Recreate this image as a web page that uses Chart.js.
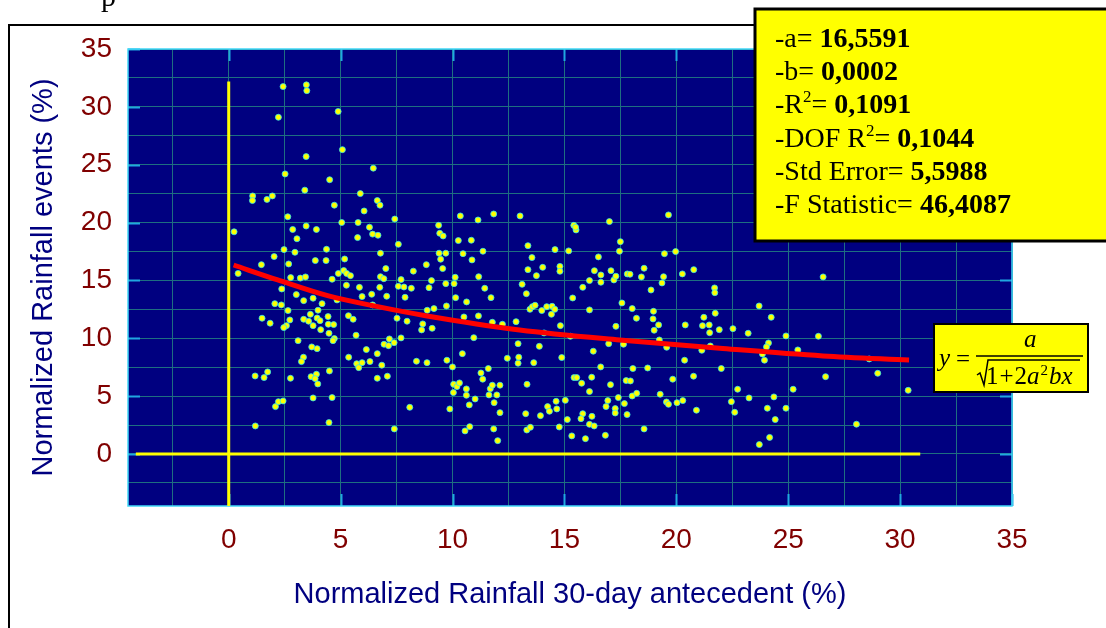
<!DOCTYPE html>
<html><head><meta charset="utf-8">
<script src="https://cdn.jsdelivr.net/npm/chart.js@4.4.1/dist/chart.umd.min.js"></script>
<style>html,body{margin:0;padding:0;background:#fff}#wrap{width:1106px;height:628px;position:relative}</style>
</head><body><div id="wrap"><canvas id="c" width="1106" height="628"></canvas></div>
<script>
// ---- data ----
const antecedentX = [
2.43,3.47,3.49,4.89,2.22,5.08,3.46,6.46,2.52,4.51,3.40,5.88,1.07,1.95,1.71,1.06,6.64,6.76,4.72,6.05,7.42,2.64,5.05,5.78,3.46,6.29,2.86,3.92,0.24,6.43,6.67,5.76,3.05,
2.47,2.96,4.37,7.58,6.78,2.03,1.46,2.68,3.87,4.35,5.18,8.83,0.42,2.77,3.2,3.43,4.62,4.9,5.14,5.27,5.44,7.02,6.78,6.93,8.25,7.7,2.37,5.26,5.84,6.75,7.58,7.83,8.16,3.02,6.39,7.06,7.88,5.96,3.77,3.35,4.84,2.06,2.35,4.17,6.43,2.65,3.99,8.87,3.65,5.35,5.56,7.52,7.97,1.49,1.85,2.73,3.35,3.57,3.95,4.08,4.44,4.45,4.69,3.77,2.58,2.46,4.11,8.67,8.62,4.48,5.69,7.7,3.1,4.72,4.66,7.18,6.94,7.14,7.39,3.71,3.95,6.15,6.64,3.34,3.25,5.36,5.72,5.81,5.96,6.31,6.84,8.39,8.86,1.18,1.58,1.74,2.76,3.68,3.92,3.86,3.98,4.5,6.64,7.09,2.09,2.22,2.43,3.77,4.62,8.09,1.19,4.48,7.4,
9.38,9.43,9.58,10.35,11.14,11.84,13.02,15.42,15.52,15.5,17.01,19.65,10.26,10.84,17.5,17.46,9.4,9.7,10.47,11.36,13.37,14.58,15.19,19.47,19.97,9.47,10.87,13.55,16.52,9.56,13.37,14.03,14.8,14.8,16.34,17.08,18.56,20.78,9.06,8.95,9.7,10.07,10.12,11.17,11.44,10.14,10.63,11.72,9.73,9.17,10.51,11.16,11.78,12.23,12.84,13.11,13.3,13.75,13.46,13.57,13.69,13.99,14.21,14.45,14.57,14.42,15.37,16.12,15.82,16.12,16.63,16.63,17.21,17.3,17.81,17.93,18.44,18.87,19.36,19.43,20.27,21.71,21.72,17.57,18.03,18.22,18.98,18.96,19.21,19.01,20.4,21.23,21.17,21.47,21.74,21.49,21.92,22.53,23.21,9.09,14.82,17.3,10.95,14.09,15.27,16.98,17.64,19.24,19.57,21.14,21.52,12.93,13.88,10.44,9.75,10.0,12.45,12.96,12.93,13.63,14.88,16.29,16.62,18.06,18.72,20.37,22.01,11.6,11.27,11.35,10.05,10.2,10.31,10.04,10.62,10.62,11.01,11.69,11.78,12.12,11.98,11.63,11.86,12.12,10.75,9.88,10.77,10.56,11.84,12.02,13.33,13.27,13.32,13.48,13.93,14.25,14.33,14.63,14.66,15.04,14.77,15.13,15.33,15.43,15.55,15.77,16.22,16.12,15.82,15.74,16.23,16.12,16.33,15.94,16.83,17.06,16.94,16.86,17.27,17.27,17.41,17.68,17.8,17.76,17.95,18.03,18.23,18.56,19.28,19.56,19.65,19.84,20.03,20.29,20.77,20.9,22.46,22.61,22.74,23.25,
26.56,23.7,24.24,24.9,26.35,24.12,24.03,25.43,23.85,23.94,26.67,29.0,25.22,30.36,24.36,24.07,24.9,24.42,28.05,24.17,23.71,28.62
];
const eventsY = [
31.75,31.9,31.4,29.6,29.1,26.3,25.7,24.7,24.2,23.7,22.8,22.5,22.3,22.3,22.0,21.9,21.9,21.5,21.5,21.0,20.3,20.5,20.0,20.0,19.7,19.6,19.4,19.4,19.2,19.0,18.9,18.7,18.6,
17.66,17.43,17.69,18.12,17.35,17.06,16.36,16.42,16.71,16.71,16.85,16.36,15.6,15.24,15.2,15.3,15.1,15.6,15.85,15.6,15.41,16.02,15.32,15.15,15.8,15.07,14.26,14.58,14.4,14.4,14.49,14.43,14.32,13.77,13.8,13.63,13.54,13.6,13.46,13.25,13.31,12.99,12.88,12.99,12.88,12.39,12.42,12.42,12.07,11.95,11.64,11.73,11.47,11.73,11.3,11.58,11.64,11.47,11.75,11.52,11.87,11.21,11.18,11.09,11.09,10.92,10.74,11.24,10.72,10.43,10.26,10.03,9.79,9.97,9.79,9.94,9.48,9.36,9.62,9.25,9.1,9.02,8.67,8.36,7.98,8.36,7.8,7.46,7.89,7.98,7.67,8.01,7.89,6.74,6.6,7.09,6.54,6.68,6.89,6.51,6.05,7.17,6.54,6.72,4.09,4.52,4.58,4.84,4.87,4.03,2.42,2.71,2.16,
19.76,19.07,18.84,20.57,20.22,20.74,20.57,19.76,19.36,19.6,20.08,20.66,18.44,18.47,18.35,17.52,17.35,17.35,17.31,17.52,18.0,17.66,17.55,17.31,17.49,16.83,16.77,16.97,17.03,16.02,15.93,16.13,16.21,15.79,15.84,15.84,16.05,15.93,14.98,14.37,14.72,14.72,15.27,15.32,14.32,13.51,13.14,13.51,12.79,12.56,11.84,11.93,11.38,11.21,11.43,14.66,13.85,15.41,12.5,12.73,12.85,12.39,12.73,12.76,12.5,12.07,13.48,12.45,14.4,14.98,15.47,14.84,15.04,15.36,15.56,15.53,15.3,14.17,14.78,15.32,15.56,14.35,13.94,13.05,12.56,11.73,12.33,11.67,11.15,10.69,11.15,11.81,11.09,11.15,12.16,10.48,10.74,10.83,10.43,10.86,11.09,11.03,10.05,10.46,10.17,9.53,9.48,9.85,9.22,8.96,9.33,9.53,9.3,8.67,8.1,7.52,8.27,8.36,7.84,7.89,8.33,8.88,7.52,7.38,7.43,8.1,7.38,7.38,7.0,6.46,6.02,5.82,6.14,5.3,5.62,5.07,4.75,5.64,5.94,5.94,5.1,5.1,4.43,3.57,4.24,3.89,2.36,1.99,2.16,1.15,6.02,3.48,2.07,2.3,3.31,4.09,3.69,4.55,3.89,4.63,2.33,2.97,1.56,6.6,6.6,6.11,6.63,5.39,3.48,3.05,3.25,2.56,2.42,1.32,1.61,5.99,4.61,4.09,3.92,3.54,4.87,4.35,3.4,6.34,6.31,5.01,5.24,2.16,5.16,4.49,4.29,6.46,4.43,4.61,6.72,3.78,4.52,3.6,5.59,4.84,
15.3,12.79,11.81,10.2,10.17,9.59,9.25,8.99,8.64,8.1,6.68,6.97,5.59,5.5,4.93,3.95,3.95,2.97,2.57,1.43,0.81,8.21
];
// fitted curve
const fitX = [0.22, 2.19, 4.42, 6.66, 8.8, 13.0, 17.47, 21.94, 26.55, 30.4];
const fitY = [16.33, 15.04, 13.68, 12.73, 11.95, 10.72, 9.85, 9.13, 8.47, 8.12];
// yellow reference lines
const zeroLineX = [-4.15, 30.9];
const zeroLineY = [0, 0];
const originLineX = [0, 0];
const originLineY = [-4.5, 32.2];
// axes
const axisMin = -4.5, axisMax = 35;
const gridValues = [-2.5,0,2.5,5,7.5,10,12.5,15,17.5,20,22.5,25,27.5,30,32.5,35];
const labelValues = [0,5,10,15,20,25,30,35];
// annotation texts
const statRows = [
  {pre:'-a= ', sup:'', post:'', val:'16,5591'},
  {pre:'-b= ', sup:'', post:'', val:'0,0002'},
  {pre:'-R', sup:'2', post:'= ', val:'0,1091'},
  {pre:'-DOF R', sup:'2', post:'= ', val:'0,1044'},
  {pre:'-Std Error= ', sup:'', post:'', val:'5,5988'},
  {pre:'-F Statistic= ', sup:'', post:'', val:'46,4087'}
];

const pts = antecedentX.map((x, i) => ({x: x, y: eventsY[i]}));
const toXY = (xs, ys) => xs.map((x, i) => ({x: x, y: ys[i]}));

const SANS = '"Liberation Sans", Arial, sans-serif';
const SERIF = '"Liberation Serif", "Times New Roman", serif';

const decor = {
  id: 'decor',
  beforeDraw(chart) {
    const ctx = chart.ctx, a = chart.chartArea;
    ctx.save();
    ctx.fillStyle = '#ffffff';
    ctx.fillRect(0, 0, chart.width, chart.height);
    // outer frame
    ctx.strokeStyle = '#000000';
    ctx.lineWidth = 2;
    ctx.beginPath();
    ctx.moveTo(9, 640); ctx.lineTo(9, 25); ctx.lineTo(1106, 25);
    ctx.stroke();
    // plot background
    ctx.fillStyle = '#000080';
    ctx.fillRect(a.left, a.top, a.right - a.left, a.bottom - a.top);
    // clipped top glyph
    ctx.fillStyle = '#000000';
    ctx.font = '30px ' + SERIF;
    ctx.textBaseline = 'alphabetic';
    ctx.fillText('p', 101, 6);
    ctx.restore();
  },
  beforeDatasetsDraw(chart) {
    const ctx = chart.ctx, a = chart.chartArea;
    const xs = chart.scales.x, ys = chart.scales.y;
    ctx.save();
    // inner tick marks
    ctx.strokeStyle = '#20a8e0';
    ctx.lineWidth = 2;
    ctx.beginPath();
    labelValues.forEach(v => {
      const px = Math.round(xs.getPixelForValue(v)) + 0.5;
      ctx.moveTo(px, a.top); ctx.lineTo(px, a.top + 12);
      ctx.moveTo(px, a.bottom); ctx.lineTo(px, a.bottom - 12);
      const py = Math.round(ys.getPixelForValue(v)) + 0.5;
      ctx.moveTo(a.left, py); ctx.lineTo(a.left + 12, py);
      ctx.moveTo(a.right, py); ctx.lineTo(a.right - 12, py);
    });
    ctx.stroke();
    // border
    ctx.strokeStyle = '#40d8f8';
    ctx.lineWidth = 1.5;
    ctx.strokeRect(a.left, a.top, a.right - a.left, a.bottom - a.top);
    ctx.restore();
  },
  afterDraw(chart) {
    const ctx = chart.ctx;
    ctx.save();
    // statistics box
    ctx.fillStyle = '#ffff00';
    ctx.fillRect(755, 9, 360, 232);
    ctx.strokeStyle = '#000000';
    ctx.lineWidth = 3;
    ctx.strokeRect(755, 9, 360, 232);
    ctx.fillStyle = '#000000';
    ctx.textBaseline = 'alphabetic';
    statRows.forEach((r, i) => {
      const base = 47 + i * 33.2;
      let x = 775;
      ctx.font = '28px ' + SERIF;
      ctx.fillText(r.pre, x, base); x += ctx.measureText(r.pre).width;
      if (r.sup) {
        ctx.font = '17px ' + SERIF;
        ctx.fillText(r.sup, x, base - 11); x += ctx.measureText(r.sup).width;
        ctx.font = '28px ' + SERIF;
        ctx.fillText(r.post, x, base); x += ctx.measureText(r.post).width;
      }
      ctx.font = 'bold 28px ' + SERIF;
      ctx.fillText(r.val, x, base);
    });
    // formula box
    ctx.fillStyle = '#ffff00';
    ctx.fillRect(934, 324, 154, 68);
    ctx.lineWidth = 2;
    ctx.strokeRect(934, 324, 154, 68);
    ctx.fillStyle = '#000000';
    ctx.font = 'italic 25px ' + SERIF;
    ctx.fillText('y', 939, 366);
    ctx.font = '25px ' + SERIF;
    ctx.fillText('=', 956, 367);
    ctx.lineWidth = 1.5;
    ctx.beginPath(); ctx.moveTo(976, 356); ctx.lineTo(1083, 356); ctx.stroke();
    ctx.font = 'italic 25px ' + SERIF;
    ctx.fillText('a', 1024, 347);
    // radical
    ctx.lineWidth = 1.5;
    ctx.beginPath();
    ctx.moveTo(977, 375); ctx.lineTo(980, 373); ctx.lineTo(984, 385); ctx.lineTo(988, 360); ctx.lineTo(1080, 360);
    ctx.stroke();
    let x = 986;
    ctx.font = '25px ' + SERIF;
    ctx.fillText('1', x, 384); x += ctx.measureText('1').width + 1;
    ctx.fillText('+', x, 384); x += ctx.measureText('+').width + 1;
    ctx.fillText('2', x, 384); x += ctx.measureText('2').width;
    ctx.font = 'italic 25px ' + SERIF;
    ctx.fillText('a', x, 384); x += ctx.measureText('a').width + 1;
    ctx.font = '15px ' + SERIF;
    ctx.fillText('2', x, 375); x += ctx.measureText('2').width + 1;
    ctx.font = 'italic 25px ' + SERIF;
    ctx.fillText('bx', x, 384);
    ctx.restore();
  }
};

new Chart(document.getElementById('c'), {
  type: 'scatter',
  data: {
    datasets: [
      {type: 'line', data: toXY(fitX, fitY), borderColor: '#ff0000', borderWidth: 5, pointRadius: 0, cubicInterpolationMode: 'monotone', fill: false},
      {data: pts, pointRadius: 3, backgroundColor: '#ffff00', borderColor: '#30e8f0', borderWidth: 0.8},
      {type: 'line', data: toXY(zeroLineX, zeroLineY), borderColor: '#ffff00', borderWidth: 3, pointRadius: 0, fill: false},
      {type: 'line', data: toXY(originLineX, originLineY), borderColor: '#ffff00', borderWidth: 3, pointRadius: 0, fill: false}
    ]
  },
  options: {
    responsive: false,
    animation: false,
    devicePixelRatio: 1,
    layout: {padding: {top: 49, right: 94, left: 0, bottom: 0}},
    plugins: {legend: {display: false}, tooltip: {enabled: false}},
    scales: {
      x: {
        type: 'linear', min: axisMin, max: axisMax,
        afterBuildTicks: s => { s.ticks = gridValues.map(v => ({value: v})); },
        afterFit: s => { s.height = 122; },
        grid: {color: '#1e6e80', lineWidth: 1, drawTicks: false},
        border: {display: false},
        ticks: {autoSkip: false, maxRotation: 0, padding: 17, color: '#800000',
          font: {family: SANS, size: 28},
          callback: v => labelValues.includes(v) ? String(v) : ''},
        title: {display: true, text: 'Normalized Rainfall 30-day antecedent (%)', color: '#000080',
          font: {family: SANS, size: 29}, padding: {top: 0, bottom: 16}}
      },
      y: {
        type: 'linear', min: axisMin, max: axisMax,
        afterBuildTicks: s => { s.ticks = gridValues.map(v => ({value: v})); },
        afterFit: s => { s.width = 128; },
        grid: {color: '#1e6e80', lineWidth: 1, drawTicks: false},
        border: {display: false},
        ticks: {autoSkip: false, padding: 16, color: '#800000',
          font: {family: SANS, size: 28},
          callback: v => labelValues.includes(v) ? String(v) : ''},
        title: {display: true, text: 'Normalized Rainfall events (%)', color: '#000080',
          font: {family: SANS, size: 29}, padding: {top: 27, bottom: 0}}
      }
    }
  },
  plugins: [decor]
});
</script>
</body></html>
